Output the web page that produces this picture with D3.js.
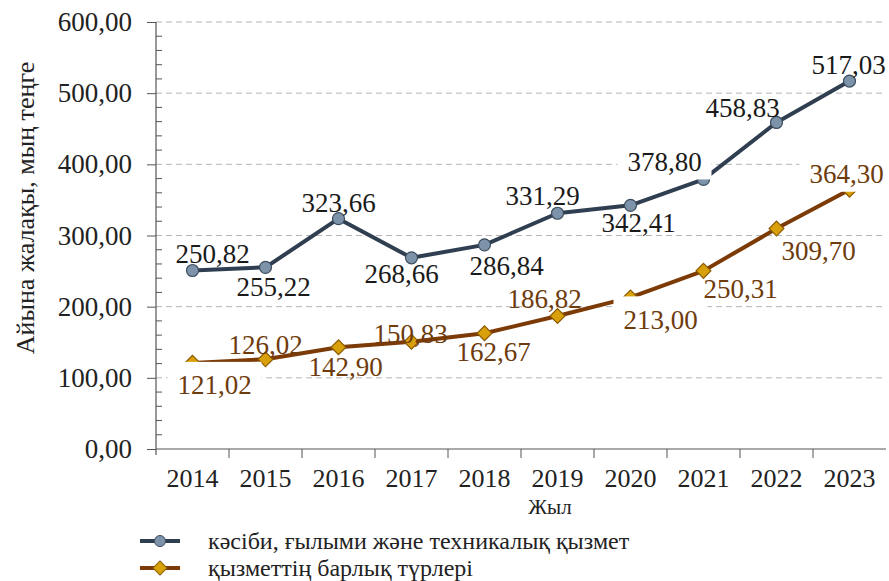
<!DOCTYPE html>
<html><head><meta charset="utf-8">
<script src="https://cdn.jsdelivr.net/npm/d3@7"></script>
<style>svg text{font-family:'Liberation Serif',serif !important}</style>
</head><body style="margin:0">
<svg id="c" width="889" height="581"></svg>
<script>
const years = ["2014","2015","2016","2017","2018","2019","2020","2021","2022","2023"];
const seriesNames = ["кәсіби, ғылыми және техникалық қызмет","қызметтің барлық түрлері"];
const profValues = [250.82,255.22,323.66,268.66,286.84,331.29,342.41,378.80,458.83,517.03];
const allValues = [121.02,126.02,142.90,150.83,162.67,186.82,213.00,250.31,309.70,364.30];
const yTicks = [0,100,200,300,400,500,600];
const yTitle = "Айына жалақы, мың теңге";
const xTitle = "Жыл";
// label layout: [dx, dy] from point to label centre, and whether the label has an opaque box
const profOffsets = [[20,-17],[8,19],[0,-16],[-10,16],[22,21],[-15,-18],[8,17],[-39,-18],[-34,-15],[-1,-16]];
const allOffsets = [[22,22],[0,-15],[7,19],[-1,-8],[9,18],[-13,-17],[30,22],[37,18],[42,22],[-3,-16]];
const profBoxed = [0,0,0,0,0,0,0,1,0,0];
const allBoxed = [1,0,0,0,0,0,1,0,0,1];

const FONT = "Liberation Serif";
const svg = d3.select("#c");
const L = 156, R = 886, T = 22, B = 449;
const x = d3.scaleBand().domain(years).range([L, R]);
const y = d3.scaleLinear().domain([0,600]).range([B, T]);
const fmt = v => v.toFixed(2).replace(".", ",");
const txt = (sel, size) => sel.attr("font-family", FONT).style("font-family", "'Liberation Serif', serif").attr("font-size", size);

svg.append("rect").attr("width",889).attr("height",581).attr("fill","#fff");

// gridlines
svg.append("g").selectAll("line").data(yTicks.filter(d=>d>0)).join("line")
  .attr("x1", L).attr("x2", R).attr("y1", d=>y(d)).attr("y2", d=>y(d))
  .attr("stroke","#b5b5b5").attr("stroke-width",1).attr("stroke-dasharray","6,4");

// y axis
const yAx = svg.append("g").attr("transform",`translate(${L},0)`)
  .call(d3.axisLeft(y).tickValues(yTicks).tickSize(9).tickPadding(15).tickFormat(fmt));
yAx.attr("font-family", FONT);
yAx.select(".domain").remove();
yAx.selectAll("line").attr("stroke","#555");
txt(yAx.selectAll("text"), 27).attr("fill","#222");
svg.append("line").attr("x1",L).attr("x2",L).attr("y1",T).attr("y2",B+6).attr("stroke","#555").attr("stroke-width",1.2);
// minor ticks
svg.append("g").selectAll("line").data(d3.range(20,600,20).filter(d=>d%100!==0)).join("line")
  .attr("x1",L).attr("x2",L+6).attr("y1",d=>y(d)).attr("y2",d=>y(d)).attr("stroke","#555");

// x axis
svg.append("line").attr("x1",L).attr("x2",R).attr("y1",B).attr("y2",B).attr("stroke","#555").attr("stroke-width",1.2);
svg.append("g").selectAll("line").data(years.slice(1)).join("line")
  .attr("x1",d=>x(d)).attr("x2",d=>x(d)).attr("y1",B).attr("y2",B+9).attr("stroke","#555");
txt(svg.append("g").selectAll("text").data(years).join("text"), 26)
  .attr("x",d=>x(d)+x.bandwidth()/2).attr("y",B+38).attr("text-anchor","middle")
  .attr("fill","#222").text(d=>d);

// titles
txt(svg.append("text"), 26).attr("transform",`translate(34,208) rotate(-90)`).attr("text-anchor","middle")
  .attr("fill","#222").text(yTitle);
txt(svg.append("text"), 21).attr("x",550).attr("y",514).attr("text-anchor","middle")
  .attr("fill","#222").text(xTitle);

const cx = d => x(d)+x.bandwidth()/2;
const line = d3.line().x((d,i)=>cx(years[i])).y(d=>y(d));

const blue = {line:"#2f3e50", fill:"#7d93aa", stroke:"#3d4d5e", label:"#1a1a1a"};
const brown = {line:"#7b3a06", fill:"#d8a00a", stroke:"#8b5a00", label:"#6e3b0c"};

svg.append("path").datum(profValues).attr("d",line).attr("fill","none").attr("stroke",blue.line).attr("stroke-width",4).attr("stroke-linejoin","round");
svg.append("path").datum(allValues).attr("d",line).attr("fill","none").attr("stroke",brown.line).attr("stroke-width",4).attr("stroke-linejoin","round");

svg.append("g").selectAll("circle").data(profValues).join("circle")
  .attr("cx",(d,i)=>cx(years[i])).attr("cy",d=>y(d)).attr("r",6)
  .attr("fill",blue.fill).attr("stroke",blue.stroke).attr("stroke-width",1.2);
svg.append("g").selectAll("path").data(allValues).join("path")
  .attr("transform",(d,i)=>`translate(${cx(years[i])},${y(d)}) rotate(45)`)
  .attr("d", d3.symbol().type(d3.symbolSquare).size(110))
  .attr("fill",brown.fill).attr("stroke",brown.stroke).attr("stroke-width",1.2);

function labels(vals, offs, boxed, col){
  const g = svg.append("g");
  vals.forEach((v,i)=>{
    const px = cx(years[i])+offs[i][0], py = y(v)+offs[i][1];
    if (boxed[i]) g.append("rect").attr("x",px-47).attr("y",py-23).attr("width",94).attr("height",41).attr("fill","#fff");
    txt(g.append("text"), 27).attr("x",px).attr("y",py).attr("dy","0.35em").attr("text-anchor","middle")
      .attr("fill",col).text(fmt(v));
  });
}
labels(profValues, profOffsets, profBoxed, blue.label);
labels(allValues, allOffsets, allBoxed, brown.label);

// legend
const leg = [[seriesNames[0], blue, "circle", 541],[seriesNames[1], brown, "diamond", 568]];
leg.forEach(([name,c,shape,ly])=>{
  svg.append("line").attr("x1",140).attr("x2",180).attr("y1",ly).attr("y2",ly).attr("stroke",c.line).attr("stroke-width",4);
  if(shape==="circle") svg.append("circle").attr("cx",160).attr("cy",ly).attr("r",5.5).attr("fill",c.fill).attr("stroke",c.stroke);
  else svg.append("path").attr("transform",`translate(160,${ly}) rotate(45)`).attr("d",d3.symbol().type(d3.symbolSquare).size(100)).attr("fill",c.fill).attr("stroke",c.stroke);
  txt(svg.append("text"), 24).attr("x",208).attr("y",ly).attr("dy","0.35em").attr("fill","#222").text(name);
});
</script>
</body></html>
